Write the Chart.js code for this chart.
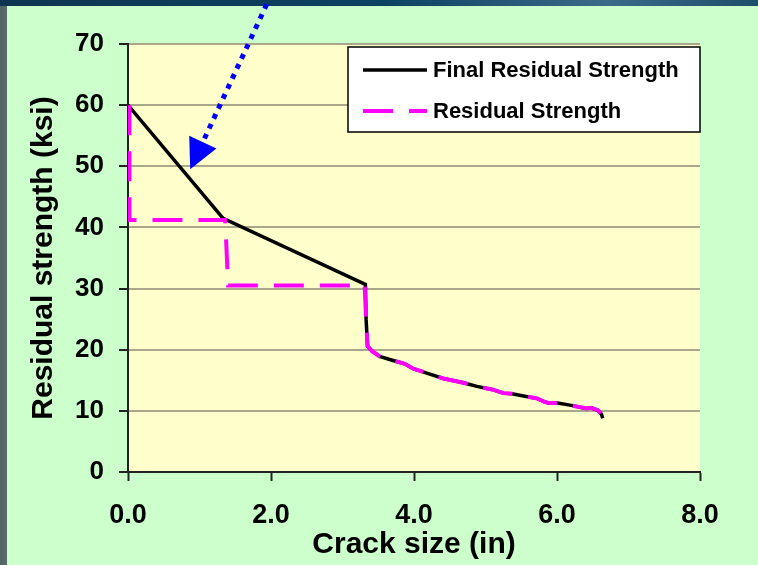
<!DOCTYPE html>
<html>
<head>
<meta charset="utf-8">
<script src="https://cdn.jsdelivr.net/npm/chart.js@4"></script>
<style>
html, body { margin: 0; padding: 0; }
body { width: 758px; height: 565px; overflow: hidden; position: relative;
       background: linear-gradient(90deg, #4f6262, #5d6d6d 7px, #0c3a55 7px); }
#top { position: absolute; left: 0; top: 0; width: 758px; height: 6px; background: linear-gradient(90deg, #0e3550, #0a4260 50%, #3a6a88 80%, #1c4f6a); }
#panel { position: absolute; left: 7px; top: 6px; right: 0; bottom: 0; background: #ccffcc; }
#wrap { position: absolute; left: 0; top: 0; width: 758px; height: 565px; }
</style>
</head>
<body>
<div id="top"></div>
<div id="panel"></div>
<div id="wrap"><canvas id="myChart"></canvas></div>
<script>
// Data
var finalCrack    = [0, 1.33, 3.32, 3.33, 3.35, 3.41, 3.52, 3.66, 3.78, 3.87, 3.99, 4.20, 4.41, 4.69, 4.88, 5.09, 5.25, 5.37, 5.55, 5.73, 5.82, 5.88, 6.01, 6.20, 6.41, 6.48, 6.57, 6.62, 6.64];
var finalStrength = [60, 41.5, 30.7, 25.0, 20.6, 19.8, 18.9, 18.4, 18.0, 17.7, 16.9, 16.1, 15.3, 14.6, 14.0, 13.5, 12.9, 12.8, 12.4, 12.0, 11.5, 11.3, 11.3, 10.9, 10.4, 10.5, 10.1, 9.5, 8.8];

var resCrack    = [0.02, 0.02, 1.36, 1.40, 3.31, 3.33, 3.35, 3.41, 3.52, 3.66, 3.78, 3.87, 3.99, 4.20, 4.41, 4.69, 4.88, 5.09, 5.25, 5.37, 5.55, 5.73, 5.82, 5.88, 6.01, 6.20, 6.41, 6.48, 6.57, 6.62, 6.64];
var resStrength = [60, 41.2, 41.2, 30.5, 30.5, 25.0, 20.6, 19.8, 18.9, 18.4, 18.0, 17.7, 16.9, 16.1, 15.3, 14.6, 14.0, 13.5, 12.9, 12.8, 12.4, 12.0, 11.5, 11.3, 11.3, 10.9, 10.4, 10.5, 10.1, 9.5, 8.8];

var xTicks = [0, 2, 4, 6, 8];
var yTicks = [0, 10, 20, 30, 40, 50, 60, 70];

// arrow annotation (data coordinates): tail, tip
var arrowFrom = [1.94, 76.5];
var arrowTo   = [0.87, 49.5];

function toPoints(xs, ys) {
    return xs.map(function(x, i) { return { x: x, y: ys[i] }; });
}

var FONT = "'Liberation Sans', Arial, sans-serif";

// plot background
var plotBg = {
    id: 'plotBg',
    beforeDraw: function(chart) {
        var a = chart.chartArea, c = chart.ctx;
        c.save();
        c.fillStyle = '#ffffcc';
        c.fillRect(a.left, a.top, a.right - a.left, a.bottom - a.top);
        c.restore();
    }
};

// boxed legend in the top right of the plot
var boxLegend = {
    id: 'boxLegend',
    afterDraw: function(chart) {
        var c = chart.ctx, a = chart.chartArea;
        var x0 = 348, y0 = a.top + 3, w = a.right - 348, h = 85;
        c.save();
        c.fillStyle = '#ffffff';
        c.fillRect(x0, y0, w, h);
        c.strokeStyle = '#000';
        c.lineWidth = 1.5;
        c.strokeRect(x0, y0, w, h);
        var items = [chart.data.datasets[0], chart.data.datasets[1]];
        items.forEach(function(ds, i) {
            var y = y0 + 23 + i * 41;
            c.beginPath();
            c.strokeStyle = ds.borderColor;
            c.lineWidth = ds.borderWidth;
            c.setLineDash(ds.borderDash || []);
            c.moveTo(x0 + 15, y);
            c.lineTo(x0 + 79, y);
            c.stroke();
            c.setLineDash([]);
            c.fillStyle = '#000';
            c.font = 'bold 22px ' + FONT;
            c.textBaseline = 'middle';
            c.fillText(ds.label, x0 + 85, y + 1);
        });
        c.restore();
    }
};

// blue dotted arrow
var arrow = {
    id: 'arrow',
    afterDatasetsDraw: function(chart) {
        var c = chart.ctx, xs = chart.scales.x, ys = chart.scales.y;
        var x1 = xs.getPixelForValue(arrowFrom[0]), y1 = ys.getPixelForValue(arrowFrom[1]);
        var x2 = xs.getPixelForValue(arrowTo[0]), y2 = ys.getPixelForValue(arrowTo[1]);
        var ang = Math.atan2(y2 - y1, x2 - x1);
        var len = 30, half = 15;
        var bx = x2 - len * Math.cos(ang), by = y2 - len * Math.sin(ang);
        c.save();
        c.strokeStyle = '#0000ff';
        c.fillStyle = '#0000ff';
        c.lineWidth = 5;
        c.setLineDash([5, 6]);
        c.beginPath();
        c.moveTo(x1, y1);
        c.lineTo(bx, by);
        c.stroke();
        c.setLineDash([]);
        c.beginPath();
        c.moveTo(x2, y2);
        c.lineTo(bx + half * Math.sin(ang), by - half * Math.cos(ang));
        c.lineTo(bx - half * Math.sin(ang), by + half * Math.cos(ang));
        c.closePath();
        c.fill();
        c.restore();
    }
};

var ctx = document.getElementById('myChart').getContext('2d');
var chart = new Chart(ctx, {
    type: 'scatter',
    data: {
        datasets: [{
            label: 'Final Residual Strength',
            data: toPoints(finalCrack, finalStrength),
            showLine: true,
            borderColor: '#000000',
            borderWidth: 3.5,
            pointRadius: 0,
            order: 2
        }, {
            label: 'Residual Strength',
            data: toPoints(resCrack, resStrength),
            showLine: true,
            borderColor: '#ff00ff',
            borderWidth: 4,
            borderDash: [30, 16],
            pointRadius: 0,
            order: 1
        }]
    },
    options: {
        responsive: true,
        maintainAspectRatio: false,
        animation: false,
        devicePixelRatio: 1,
        layout: { padding: { left: 0, right: 58, top: 44, bottom: 0 } },
        plugins: {
            legend: { display: false },
            tooltip: { enabled: false }
        },
        scales: {
            x: {
                type: 'linear',
                min: 0, max: 8,
                afterBuildTicks: function(s) { s.ticks = xTicks.map(function(v) { return { value: v }; }); },
                afterFit: function(s) { s.height = 565 - 472; },
                ticks: {
                    color: '#000',
                    font: { family: FONT, size: 27, weight: 'bold' },
                    padding: 18,
                    callback: function(v) { return v.toFixed(1); }
                },
                grid: { drawOnChartArea: false, tickLength: 9, tickColor: '#222', tickWidth: 2 },
                border: { color: '#222', width: 2 },
                title: {
                    display: true,
                    text: 'Crack size (in)',
                    color: '#000',
                    font: { family: FONT, size: 30, weight: 'bold' },
                    padding: { top: 0, bottom: 2 }
                }
            },
            y: {
                min: 0, max: 70,
                afterBuildTicks: function(s) { s.ticks = yTicks.map(function(v) { return { value: v }; }); },
                afterFit: function(s) { s.width = 128; },
                ticks: {
                    color: '#000',
                    font: { family: FONT, size: 26, weight: 'bold' },
                    padding: 15
                },
                grid: { color: '#aaa88a', lineWidth: 2, tickLength: 9, tickColor: '#222', tickWidth: 2 },
                border: { color: '#222', width: 2 },
                title: {
                    display: true,
                    text: 'Residual strength (ksi)',
                    color: '#000',
                    font: { family: FONT, size: 30, weight: 'bold' },
                    padding: { top: 26, bottom: 0 }
                }
            }
        }
    },
    plugins: [plotBg, arrow, boxLegend]
});
</script>
</body>
</html>
